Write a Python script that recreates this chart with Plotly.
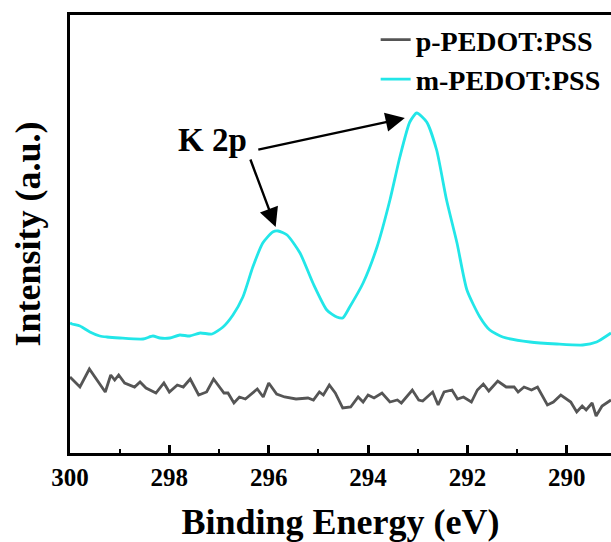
import plotly.graph_objects as go

# m-PEDOT:PSS (cyan) binding energy (eV) and intensity (a.u.)
m_energy = [300.00, 299.96, 299.80, 299.60, 299.40, 299.26, 299.00, 298.53, 298.33, 298.19,
            297.99, 297.79, 297.59, 297.38, 297.14, 296.92, 296.72, 296.52, 296.32, 296.12,
            295.92, 295.81, 295.63, 295.37, 295.11, 294.83, 294.63, 294.51, 294.37, 294.10,
            293.82, 293.56, 293.36, 293.16, 293.02, 292.82, 292.62, 292.42, 292.21, 292.01,
            291.75, 291.55, 291.29, 290.74, 290.20, 289.68, 289.40, 289.11]
m_intensity = [130, 129, 127, 121, 117, 116, 115, 114, 117, 115,
               115, 118, 117, 120, 119, 126, 138, 156, 186, 210,
               221, 222, 218, 200, 170, 143, 136, 135, 146, 170,
               206, 253, 296, 331, 340, 331, 303, 253, 210, 163,
               136, 123, 116, 111, 109, 108, 111, 120]

# p-PEDOT:PSS (grey)
p_energy = [300.00, 299.80, 299.61, 299.45, 299.29, 299.18, 299.10, 299.02, 298.90, 298.70,
            298.59, 298.47, 298.27, 298.11, 298.00, 297.84, 297.72, 297.58, 297.41, 297.25,
            297.11, 296.90, 296.82, 296.70, 296.59, 296.47, 296.23, 296.11, 296.00, 295.84,
            295.68, 295.45, 295.21, 295.10, 294.98, 294.90, 294.78, 294.66, 294.51, 294.35,
            294.20, 294.10, 294.00, 293.88, 293.72, 293.56, 293.41, 293.33, 293.11, 292.98,
            292.90, 292.70, 292.59, 292.47, 292.31, 292.20, 292.08, 291.92, 291.80, 291.68,
            291.57, 291.39, 291.22, 291.06, 290.98, 290.86, 290.71, 290.59, 290.39, 290.27,
            290.12, 289.92, 289.80, 289.69, 289.61, 289.49, 289.41, 289.29, 289.11]
p_intensity = [76, 66, 84, 73, 61, 78, 73, 78, 70, 66,
               71, 65, 60, 70, 61, 68, 66, 74, 58, 61,
               74, 60, 60, 50, 56, 54, 64, 56, 70, 59,
               56, 54, 55, 53, 61, 58, 68, 60, 45, 46,
               56, 51, 58, 55, 60, 51, 53, 50, 63, 53,
               52, 61, 48, 61, 63, 54, 56, 51, 63, 69,
               62, 72, 66, 66, 61, 66, 63, 66, 48, 51,
               58, 51, 41, 47, 43, 50, 37, 47, 53]

x_ticks = [300, 298, 296, 294, 292, 290]
x_range = [300, 289.11]
y_range = [0, 438]

label_text = "K 2p"
label_pos = (297.14, 313)
arrow_tails = [(296.24, 303), (296.38, 295)]
arrow_heads = [(293.26, 335), (295.86, 226)]

grey = "#555555"
cyan = "#22E6E8"
font_family = "Liberation Serif"

fig = go.Figure()
fig.add_trace(go.Scatter(x=p_energy, y=p_intensity, mode="lines", name="p-PEDOT:PSS",
                         line=dict(color=grey, width=2.8)))
fig.add_trace(go.Scatter(x=m_energy, y=m_intensity, mode="lines", name="m-PEDOT:PSS",
                         line=dict(color=cyan, width=2.8, shape="spline", smoothing=0.6)))

fig.add_annotation(x=label_pos[0], y=label_pos[1], text="<b>" + label_text + "</b>", showarrow=False,
                   font=dict(family=font_family, size=33, color="black"))
for (tx, ty), (hx, hy) in zip(arrow_tails, arrow_heads):
    fig.add_annotation(x=hx, y=hy, ax=tx, ay=ty, xref="x", yref="y", axref="x", ayref="y",
                       text="", showarrow=True, arrowhead=2, arrowsize=1.6, arrowwidth=2.4,
                       arrowcolor="black")

fig.update_layout(
    width=611, height=542,
    margin=dict(l=70, r=0, t=15, b=89),
    paper_bgcolor="white", plot_bgcolor="white",
    font=dict(family=font_family, color="black"),
    showlegend=True,
    legend=dict(x=0.565, y=1.0, xanchor="left", yanchor="top",
                bgcolor="rgba(0,0,0,0)",
                font=dict(family=font_family, size=28, color="black", weight="bold")),
    xaxis=dict(range=x_range, tickvals=x_ticks, ticks="inside", ticklen=8, tickwidth=2.5,
               tickcolor="black", showline=True, linewidth=2.6, linecolor="black", mirror=True,
               showgrid=False, zeroline=False, ticklabelstandoff=0,
               minor=dict(dtick=1, ticks="inside", ticklen=4, tickwidth=2.2, tickcolor="black"),
               tickfont=dict(family=font_family, size=25, color="black", weight="bold"),
               title=dict(text="<b>Binding Energy (eV)</b>", standoff=21,
                          font=dict(family=font_family, size=36, color="black"))),
    yaxis=dict(range=y_range, showticklabels=False, ticks="", showline=True, linewidth=2.6,
               linecolor="black", mirror=False, showgrid=False, zeroline=False,
               title=dict(text="<b>Intensity (a.u.)</b>", standoff=16,
                          font=dict(family=font_family, size=36, color="black"))),
)

fig.write_html("out.html", config={"displayModeBar": False},
               post_script="document.body.style.margin='0';")
